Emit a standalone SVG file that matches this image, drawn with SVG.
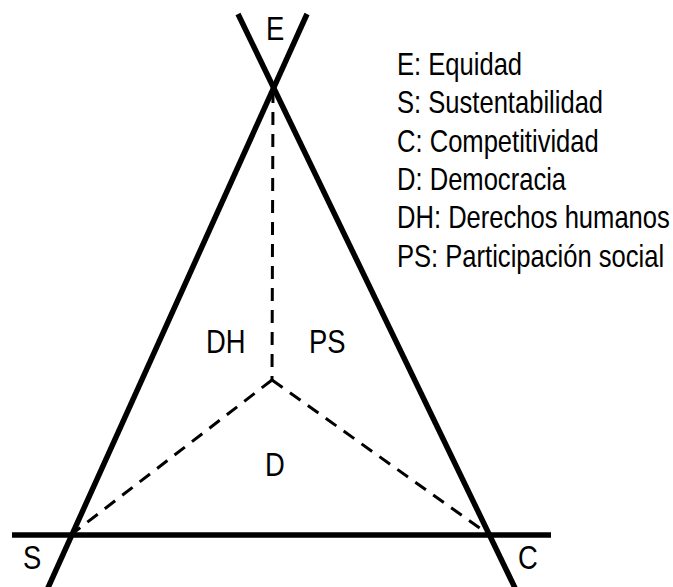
<svg xmlns="http://www.w3.org/2000/svg" width="673" height="587" viewBox="0 0 673 587">
<style>
.thick{stroke:#000;stroke-width:5.5;fill:none;stroke-linecap:butt}
.dash{stroke:#000;stroke-width:3;fill:none;stroke-dasharray:13 9}
.lbl{font-family:"Liberation Sans",Arial,sans-serif;font-size:33px;fill:#000}
.leg{font-family:"Liberation Sans",Arial,sans-serif;font-size:31px;fill:#000}
</style>
<rect width="673" height="587" fill="#fff"/>
<g id="connectors">
<line class="thick" x1="238" y1="14" x2="516" y2="590"/>
<line class="thick" x1="307" y1="14" x2="47" y2="590"/>
<line class="thick" x1="12" y1="535" x2="551" y2="535"/>
<line class="dash" x1="273" y1="90" x2="272" y2="380"/>
<line class="dash" x1="272" y1="380" x2="72" y2="534"/>
<line class="dash" x1="272" y1="380" x2="488" y2="534"/>
</g>
<g id="node-E" transform="translate(266,40) scale(0.83,1)"><text class="lbl" x="0" y="0">E</text></g>
<g id="node-S" transform="translate(23,569) scale(0.83,1)"><text class="lbl" x="0" y="0">S</text></g>
<g id="node-C" transform="translate(518,569) scale(0.83,1)"><text class="lbl" x="0" y="0">C</text></g>
<g id="node-DH" transform="translate(206,353) scale(0.83,1)"><text class="lbl" x="0" y="0">DH</text></g>
<g id="node-PS" transform="translate(309,353) scale(0.83,1)"><text class="lbl" x="0" y="0">PS</text></g>
<g id="node-D" transform="translate(265,476) scale(0.83,1)"><text class="lbl" x="0" y="0">D</text></g>
<g id="legend" transform="translate(397,0) scale(0.825,1)">
<text class="leg" x="0" y="75">E: Equidad</text>
<text class="leg" x="0" y="113.5">S: Sustentabilidad</text>
<text class="leg" x="0" y="152">C: Competitividad</text>
<text class="leg" x="0" y="190">D: Democracia</text>
<text class="leg" x="0" y="228.5">DH: Derechos humanos</text>
<text class="leg" x="0" y="267">PS: Participación social</text>
</g>
</svg>
